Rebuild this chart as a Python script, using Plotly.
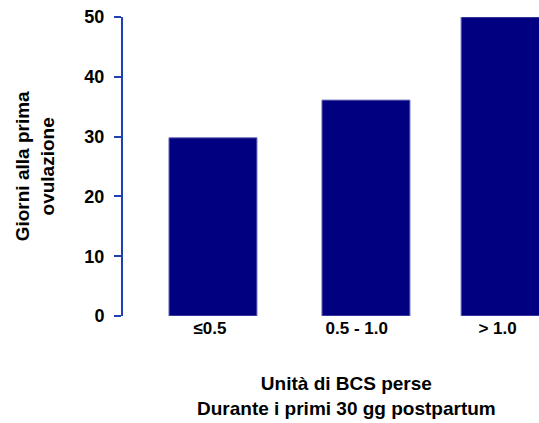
import plotly.graph_objects as go

categories = ["≤0.5", "0.5 - 1.0", "> 1.0"]
giorni = [29.8, 36.1, 50]

AXIS_BLUE = "#2040b0"
BAR_NAVY = "#000080"
FONT = "Liberation Sans, Arial, sans-serif"

fig = go.Figure(
    go.Bar(
        x=list(range(len(categories))),
        y=giorni,
        width=0.575,
        # last bar sits a little closer to the middle one in the original
        offset=[-0.2875, -0.2875, -0.378],
        marker=dict(color=BAR_NAVY, line=dict(color="#6a6ab8", width=1)),
        hoverinfo="skip",
    )
)

fig.update_layout(
    width=539,
    height=423,
    paper_bgcolor="white",
    plot_bgcolor="white",
    showlegend=False,
    margin=dict(l=123, r=0, t=17, b=107),
    font=dict(family=FONT, size=18, color="black"),
    xaxis=dict(
        range=[-0.588, 2.131],
        tickmode="array",
        tickvals=[-0.02, 0.94, 1.86],
        ticktext=categories,
        showline=False,
        showgrid=False,
        zeroline=False,
        ticks="",
        tickfont=dict(size=17, family=FONT, weight="bold"),
    ),
    yaxis=dict(
        range=[0, 50],
        tickvals=[0, 10, 20, 30, 40, 50],
        showgrid=False,
        zeroline=False,
        showline=True,
        linecolor=AXIS_BLUE,
        linewidth=2,
        ticks="outside",
        ticklen=7,
        tickwidth=2,
        tickcolor=AXIS_BLUE,
        ticklabelstandoff=6,
        ticklabeloverflow="allow",
        tickfont=dict(size=18, family=FONT, weight="bold"),
    ),
    annotations=[
        dict(
            text="<b>Giorni alla prima<br>ovulazione</b>",
            xref="paper", yref="paper",
            x=-0.212, y=0.5,
            xanchor="center", yanchor="middle",
            textangle=-90,
            showarrow=False,
            font=dict(size=19, family=FONT),
        ),
        dict(
            text="<b>Unità di BCS perse<br>Durante i primi 30 gg postpartum</b>",
            xref="paper", yref="paper",
            x=(346 - 123) / 416, y=-0.183,
            xanchor="center", yanchor="top",
            showarrow=False,
            font=dict(size=19, family=FONT),
        ),
    ],
)

# drop the default page margin so the figure fills the window
fig.write_html(
    "out.html",
    config={"displayModeBar": False},
    post_script="document.body.style.margin='0';document.body.style.overflow='hidden';",
)
